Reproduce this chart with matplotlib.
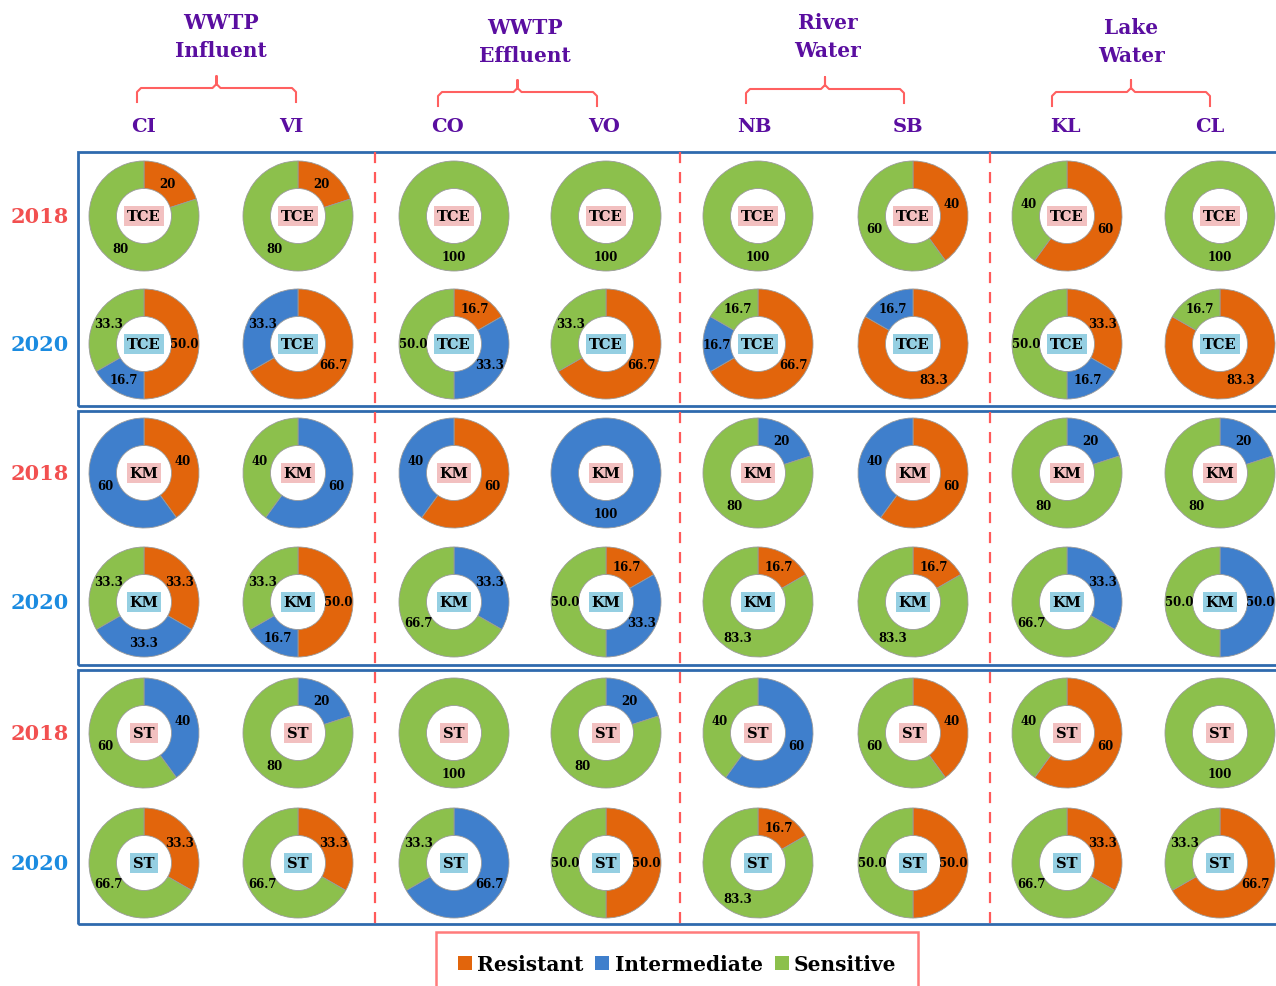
import matplotlib
matplotlib.use('Agg')
import matplotlib.pyplot as plt
from matplotlib.patches import Rectangle, Patch

# ---------------- data ----------------
columns = ['CI', 'VI', 'CO', 'VO', 'NB', 'SB', 'KL', 'CL']
groups = ['WWTP\nInfluent', 'WWTP\nEffluent', 'River\nWater', 'Lake\nWater']
categories = ['Resistant', 'Intermediate', 'Sensitive']
antibiotics = ['TCE', 'TCE', 'KM', 'KM', 'ST', 'ST']
years = ['2018', '2020', '2018', '2020', '2018', '2020']

# [Resistant, Intermediate, Sensitive] for each column
tce_2018 = [[20, 0, 80], [20, 0, 80], [0, 0, 100], [0, 0, 100],
            [0, 0, 100], [40, 0, 60], [60, 0, 40], [0, 0, 100]]
tce_2020 = [[50.0, 16.7, 33.3], [66.7, 33.3, 0], [16.7, 33.3, 50.0], [66.7, 0, 33.3],
            [66.7, 16.7, 16.7], [83.3, 16.7, 0], [33.3, 16.7, 50.0], [83.3, 0, 16.7]]
km_2018 = [[40, 60, 0], [0, 60, 40], [60, 40, 0], [0, 100, 0],
           [0, 20, 80], [60, 40, 0], [0, 20, 80], [0, 20, 80]]
km_2020 = [[33.3, 33.3, 33.3], [50.0, 16.7, 33.3], [0, 33.3, 66.7], [16.7, 33.3, 50.0],
           [16.7, 0, 83.3], [16.7, 0, 83.3], [0, 33.3, 66.7], [0, 50.0, 50.0]]
st_2018 = [[0, 40, 60], [0, 20, 80], [0, 0, 100], [0, 20, 80],
           [0, 60, 40], [40, 0, 60], [60, 0, 40], [0, 0, 100]]
st_2020 = [[33.3, 0, 66.7], [33.3, 0, 66.7], [0, 66.7, 33.3], [50.0, 0, 50.0],
           [16.7, 0, 83.3], [50.0, 0, 50.0], [33.3, 0, 66.7], [66.7, 0, 33.3]]
row_data = [tce_2018, tce_2020, km_2018, km_2020, st_2018, st_2020]

# ---------------- style / layout ----------------
W, H = 1276, 987
SERIF = 'DejaVu Serif'
cat_colors = ['#E2650C', '#3F7FCC', '#8CC04C']
purple = '#5A0EA0'
year_colors = {'2018': '#F25050', '2020': '#1B8BE0'}
tag_colors = {'2018': '#F2C0C0', '2020': '#95CFE2'}
col_x = [144, 298, 454, 606, 758, 913, 1067, 1220]
row_y = [217, 345, 474, 603, 734, 864]
R = 55

fig = plt.figure(figsize=(W / 100, H / 100), dpi=100)
ax = fig.add_axes([0, 0, 1, 1])


def Y(py):
    return H - py


# donuts
for r_idx, data in enumerate(row_data):
    yr = years[r_idx]
    fmt = '{:.0f}' if yr == '2018' else '{:.1f}'
    cy = Y(row_y[r_idx])
    for c_idx, vals in enumerate(data):
        cx = col_x[c_idx]
        v = [x for x in vals if x > 0]
        cols = [cat_colors[i] for i, x in enumerate(vals) if x > 0]
        it = iter([fmt.format(x) for x in v])
        ax.pie(v, colors=cols, center=(cx, cy), radius=R, startangle=90,
               counterclock=False, normalize=True,
               wedgeprops=dict(width=R * 0.50, edgecolor='#9a9a9a', linewidth=0.6),
               autopct=lambda p, it=it: next(it), pctdistance=0.74,
               textprops=dict(fontsize=8.5, fontweight='bold', family=SERIF,
                              color='black'))
        ax.text(cx, cy, antibiotics[r_idx], ha='center', va='center',
                fontsize=10.5, fontweight='bold', family=SERIF, color='black',
                bbox=dict(boxstyle='square,pad=0.2', fc=tag_colors[yr], ec='none'))
    ax.text(40, cy, yr, ha='center', va='center', fontsize=15,
            fontweight='bold', family=SERIF, color=year_colors[yr])

# panel boxes
for top, bot in [(153, 407), (412, 666), (671, 925)]:
    ax.add_patch(Rectangle((78, Y(bot)), 1220, bot - top, fill=False,
                           ec='#2F6AAE', lw=2, clip_on=False))
# dashed separators
for x in [375, 680, 990]:
    ax.plot([x, x], [Y(153), Y(925)], color='#FF5A5A', lw=1.6, ls=(0, (5, 4)))

# column labels
col_lab_x = [143, 291, 448, 604, 754, 908, 1065, 1210]
for x, lab in zip(col_lab_x, columns):
    ax.text(x, Y(127), lab, ha='center', va='center', fontsize=14,
            fontweight='bold', family=SERIF, color=purple)

# group labels and braces
grp_x = [221, 525, 828, 1131]
grp_y = [37, 42, 37, 42]
brace = [(137, 296, 89), (438, 597, 93), (746, 904, 90), (1052, 1210, 93)]
for gx, gy, lab, (x0, x1, by) in zip(grp_x, grp_y, groups, brace):
    ax.text(gx, Y(gy), lab, ha='center', va='center', fontsize=14.5,
            fontweight='bold', family=SERIF, color=purple, linespacing=1.55)
    xm = (x0 + x1) / 2
    xs = [x0, x0, x0 + 4, xm - 4, xm, xm, xm, xm + 4, x1 - 4, x1, x1]
    ys = [by + 14, by + 4, by, by, by - 4, by - 12, by - 4, by, by, by + 4, by + 14]
    ax.plot(xs, [Y(y) for y in ys], color='#FF6060', lw=1.5, solid_joinstyle='round')

ax.set_xlim(0, W)
ax.set_ylim(0, H)
ax.set_aspect('auto')
ax.axis('off')

# legend
handles = [Patch(facecolor=c, edgecolor='none', label=l) for c, l in zip(cat_colors, categories)]
leg = fig.legend(handles=handles, ncol=3, loc='upper center',
                 bbox_to_anchor=(677 / W, 1 - 933 / H), frameon=True,
                 fancybox=False, edgecolor='#FF5A5A', handlelength=0.7,
                 handleheight=0.7, handletextpad=0.25, columnspacing=0.6,
                 borderpad=1.1, borderaxespad=0,
                 prop=dict(family=SERIF, weight='bold', size=14.5))
leg.get_frame().set_linewidth(1.8)

fig.savefig('out.png', dpi=100)
